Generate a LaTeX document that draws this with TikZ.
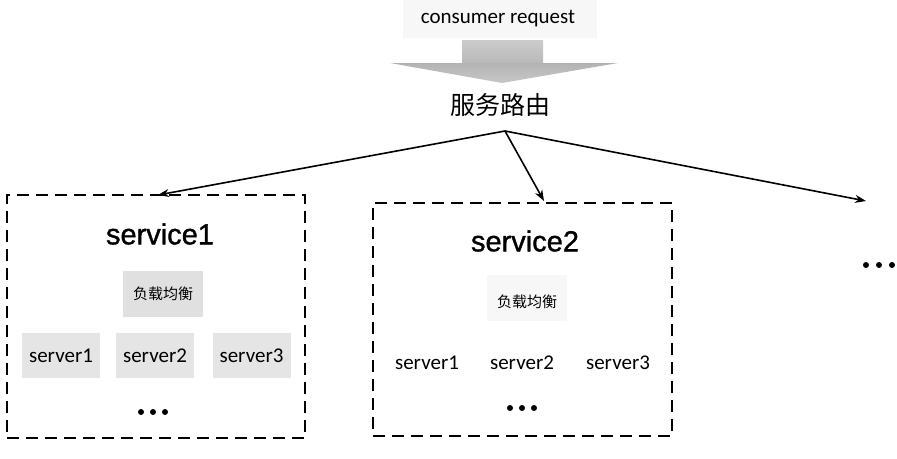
\documentclass[tikz,border=0pt]{standalone}
\usepackage{fontspec}
\setmainfont{Carlito}
\newfontfamily\cjk{Noto Sans CJK SC}
\newfontfamily\arialf[FakeBold=1.2]{Liberation Sans}
\usetikzlibrary{arrows.meta}
\begin{document}
\begin{tikzpicture}[x=1pt,y=-1pt,
  svcbox/.style={draw, dash pattern=on 12pt off 7pt, line width=2.2pt, inner sep=0pt},
  lbbox/.style={inner sep=0pt, minimum width=80pt, minimum height=46pt},
  srvbox/.style={inner sep=0pt, minimum width=78pt, minimum height=45pt},
  srv/.style={font=\fontsize{21}{24}\selectfont},
  lb/.style={font=\cjk\fontsize{15}{18}\selectfont},
  svc/.style={font=\arialf\fontsize{29}{33}\selectfont},
  conn/.style={-{Stealth[length=11pt,width=8pt]}, line width=1.6pt},
  dotn/.style={circle, fill=black, inner sep=0pt, minimum size=6pt}]
\useasboundingbox (0,0) rectangle (897,458);
% faint backdrop of the request label
\fill[black!3] (403,0) rectangle (597,38);
% big gray arrow
\shade[top color=black!20, bottom color=black!28] (462,40) rectangle (543,64);
\shade[top color=black!30, bottom color=black!22] (390,63) -- (618,63) -- (502,83) -- cycle;
\node[font=\fontsize{21}{24}\selectfont] (req) at (498,19) {consumer request};
\node[font=\cjk\fontsize{25}{30}\selectfont] (router) at (500,105) {服务路由};
\coordinate (src) at (505,131);
% service boxes
\node[svcbox, minimum width=298pt, minimum height=243pt] (box1) at (156,316.5) {};
\node[svcbox, minimum width=299pt, minimum height=233pt] (box2) at (522.5,319.5) {};
% service 1
\node[svc] (s1) at (160,234) {service1};
\node[lbbox, fill=black!12] (lb1) at (163,294) {};
\node[lb] at (lb1) {负载均衡};
\node[srvbox, fill=black!10] (b11) at (61,355.5) {};
\node[srvbox, fill=black!10] (b12) at (155,355.5) {};
\node[srvbox, fill=black!10] (b13) at (251.5,355.5) {};
\node[srv] at (b11) {server1};
\node[srv] at (b12) {server2};
\node[srv] at (b13) {server3};
\node[dotn] (d11) at (141,412) {};
\node[dotn] (d12) at (153,412) {};
\node[dotn] (d13) at (165,412) {};
% service 2
\node[svc] (s2) at (525,241) {service2};
\node[lbbox, fill=black!3] (lb2) at (527,298) {};
\node[lb] at (527,302) {负载均衡};
\node[srv] (b21) at (427,363) {server1};
\node[srv] (b22) at (522,363) {server2};
\node[srv] (b23) at (618,363) {server3};
\node[dotn] (d21) at (510,408) {};
\node[dotn] (d22) at (522,408) {};
\node[dotn] (d23) at (534,408) {};
% more
\node[dotn] (d31) at (866,265) {};
\node[dotn] (d32) at (879,265) {};
\node[dotn] (d33) at (892,265) {};
% connectors
\coordinate (t1) at (158,195);
\coordinate (t2) at (544,201);
\coordinate (t3) at (866,201);
\draw[conn] (src) -- (t1);
\draw[conn] (src) -- (t2);
\draw[conn] (src) -- (t3);
\end{tikzpicture}
\end{document}
